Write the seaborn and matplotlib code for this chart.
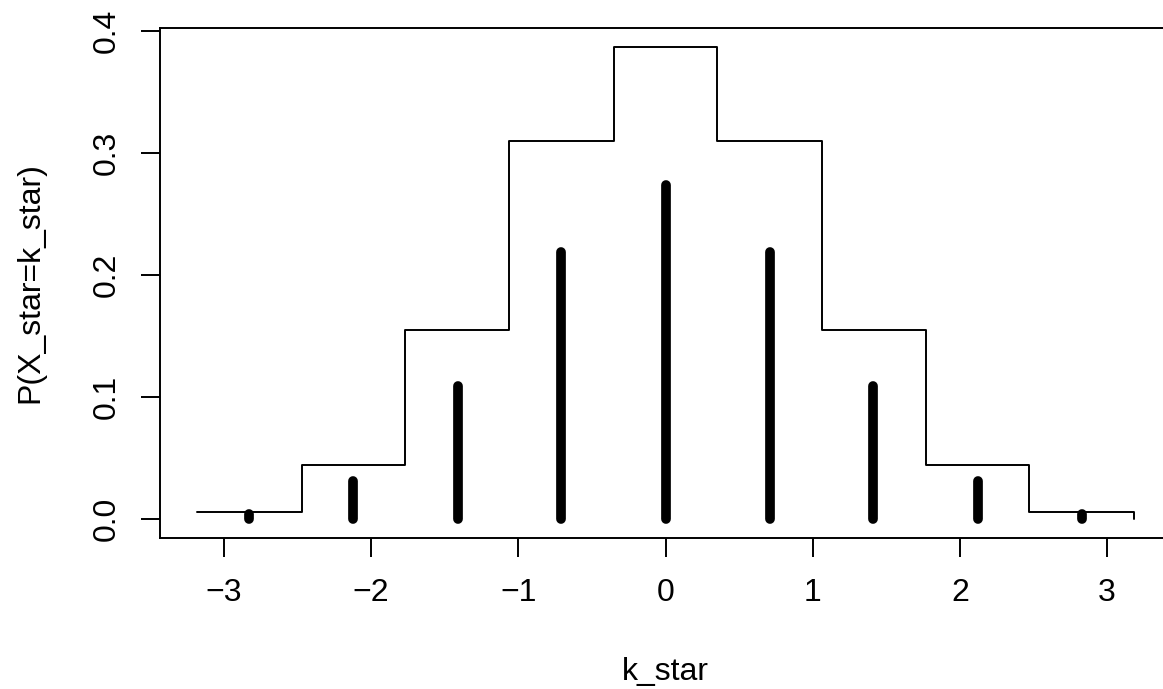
import matplotlib
matplotlib.use("Agg")
import matplotlib.pyplot as plt
import seaborn as sns
import pandas as pd

# Stem positions (k_star) and probabilities P(X_star = k_star)
k_star = [-2.83, -2.12, -1.41, -0.71, 0.0, 0.71, 1.41, 2.12, 2.83]
prob = [0.0039, 0.0313, 0.1094, 0.2188, 0.2734, 0.2188, 0.1094, 0.0313, 0.0039]

# Step outline (left edges of each step and heights)
step_x = [-3.18, -2.47, -1.77, -1.06, -0.35, 0.35, 1.06, 1.77, 2.47, 3.18]
step_y = [0.0055, 0.0442, 0.1547, 0.3094, 0.3868, 0.3094, 0.1547, 0.0442, 0.0055, 0.0]

x_ticks = [-3, -2, -1, 0, 1, 2, 3]
y_ticks = [0.0, 0.1, 0.2, 0.3, 0.4]
y_tick_labels = ["0.0", "0.1", "0.2", "0.3", "0.4"]

sns.set_theme(style="white")
plt.rcParams['font.family'] = ['Liberation Sans', 'DejaVu Sans']
plt.rcParams['axes.unicode_minus'] = True

W, H = 1163, 689
fig = plt.figure(figsize=(W / 100, H / 100), dpi=100)
left_px, right_px, top_px, bottom_px = 160, 1171, 28, 538
ax = fig.add_axes([left_px / W, 1 - bottom_px / H,
                   (right_px - left_px) / W, (bottom_px - top_px) / H])

# stems
stem_df = pd.DataFrame({
    "x": [v for v in k_star for _ in range(2)],
    "y": [val for p in prob for val in (0.0, p)],
    "unit": [i for i in range(len(k_star)) for _ in range(2)],
})
sns.lineplot(data=stem_df, x="x", y="y", units="unit", estimator=None,
             color="black", linewidth=7.0, solid_capstyle="round", ax=ax,
             sort=False, legend=False)

# step outline
step_df = pd.DataFrame({"x": step_x, "y": step_y})
sns.lineplot(data=step_df, x="x", y="y", color="black", linewidth=1.4,
             drawstyle="steps-post", estimator=None, ax=ax, legend=False)

ax.margins(x=0.04, y=0.04)

ax.set_xticks(x_ticks)
ax.set_yticks(y_ticks)
ax.set_yticklabels(y_tick_labels, rotation=90, va="center")

for s in ["left", "bottom", "top", "right"]:
    ax.spines[s].set_visible(True)
    ax.spines[s].set_color("black")
    ax.spines[s].set_linewidth(1.4)

FS = 23
ax.tick_params(axis="both", which="major", direction="out", length=13.7,
               width=1.4, color="black", labelsize=FS, labelcolor="black",
               bottom=True, left=True)
ax.tick_params(axis="x", pad=15)
ax.tick_params(axis="y", pad=13.5)

ax.set_xlabel("k_star", fontsize=FS, color="black", va="baseline")
ax.xaxis.set_label_coords(0.5, (bottom_px - 680) / (bottom_px - top_px))
ax.set_ylabel("P(X_star=k_star)", fontsize=FS, color="black", va="center")
ax.yaxis.set_label_coords((30 - left_px) / (right_px - left_px), 0.5)

ax.grid(False)
fig.savefig("out.png", dpi=100)
